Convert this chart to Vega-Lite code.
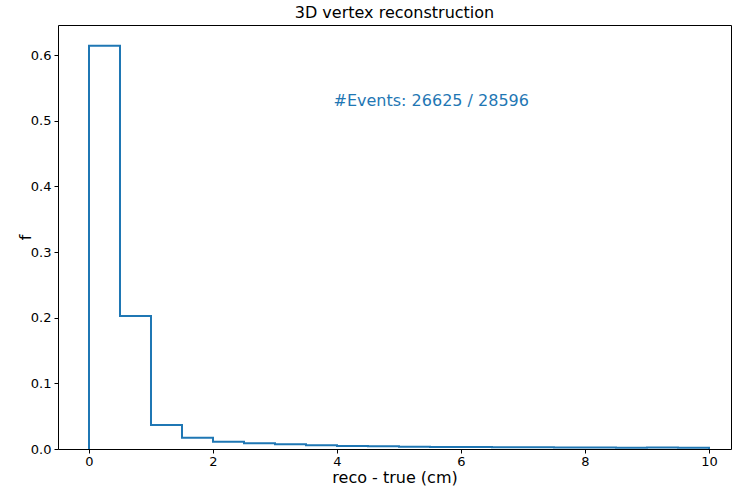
{
  "$schema": "https://vega.github.io/schema/vega-lite/v6.json",
  "width": 673,
  "height": 424,
  "autosize": {"type": "none"},
  "padding": {"left": 58, "top": 25, "right": 1, "bottom": 37},
  "background": "white",
  "config": {
    "font": "DejaVu Sans",
    "view": {"stroke": "black", "strokeWidth": 1},
    "axis": {"grid": false, "domain": false, "tickColor": "black", "tickSize": 4, "labelColor": "black", "titleColor": "black", "labelFontSize": 13, "titleFontSize": 16, "titleFontWeight": "normal", "labelFont": "DejaVu Sans", "titleFont": "DejaVu Sans"}
  },
  "title": {"text": "3D vertex reconstruction", "fontSize": 16, "fontWeight": "normal", "font": "DejaVu Sans", "color": "black", "offset": 4},
  "layer": [
    {
      "data": {"values": [
        {"i": 0, "x": 0, "f": 0},
        {"i": 1, "x": 0, "f": 0.614},
        {"i": 2, "x": 0.5, "f": 0.2025},
        {"i": 3, "x": 1.0, "f": 0.0365},
        {"i": 4, "x": 1.5, "f": 0.0172},
        {"i": 5, "x": 2.0, "f": 0.0112},
        {"i": 6, "x": 2.5, "f": 0.0088},
        {"i": 7, "x": 3.0, "f": 0.0073},
        {"i": 8, "x": 3.5, "f": 0.0058},
        {"i": 9, "x": 4.0, "f": 0.0046},
        {"i": 10, "x": 4.5, "f": 0.0040},
        {"i": 11, "x": 5.0, "f": 0.0033},
        {"i": 12, "x": 5.5, "f": 0.0031},
        {"i": 13, "x": 6.0, "f": 0.0029},
        {"i": 14, "x": 6.5, "f": 0.0026},
        {"i": 15, "x": 7.0, "f": 0.0025},
        {"i": 16, "x": 7.5, "f": 0.0022},
        {"i": 17, "x": 8.0, "f": 0.0024},
        {"i": 18, "x": 8.5, "f": 0.0020},
        {"i": 19, "x": 9.0, "f": 0.0022},
        {"i": 20, "x": 9.5, "f": 0.0019},
        {"i": 21, "x": 10.0, "f": 0.0019},
        {"i": 22, "x": 10.0, "f": 0}
      ]},
      "mark": {"type": "line", "interpolate": "step-after", "color": "#1f77b4", "strokeWidth": 2, "clip": true},
      "encoding": {
        "x": {"field": "x", "type": "quantitative", "scale": {"domain": [-0.5, 10.355], "nice": false, "zero": false}, "axis": {"values": [0, 2, 4, 6, 8, 10], "format": "d", "title": "reco - true (cm)", "labelPadding": 2, "titlePadding": 1}},
        "y": {"field": "f", "type": "quantitative", "scale": {"domain": [0, 0.6457], "nice": false}, "axis": {"values": [0, 0.1, 0.2, 0.3, 0.4, 0.5, 0.6], "format": ".1f", "title": "f", "labelPadding": 3, "titlePadding": -3}},
        "order": {"field": "i", "type": "quantitative"}
      }
    },
    {
      "data": {"values": [{"x": 5.52, "f": 0.53, "label": "#Events: 26625 / 28596"}]},
      "mark": {"type": "text", "color": "#1f77b4", "fontSize": 16, "font": "DejaVu Sans", "align": "center", "baseline": "middle"},
      "encoding": {
        "x": {"field": "x", "type": "quantitative"},
        "y": {"field": "f", "type": "quantitative"},
        "text": {"field": "label"}
      }
    }
  ]
}
